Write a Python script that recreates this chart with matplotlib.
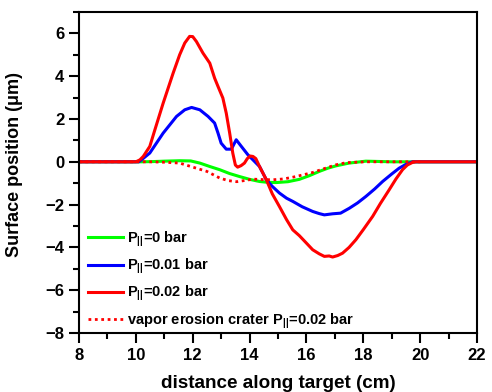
import matplotlib
matplotlib.use("Agg")
import matplotlib.pyplot as plt
from matplotlib.ticker import MultipleLocator

plt.rcParams['font.family'] = ['Liberation Sans', 'DejaVu Sans']
plt.rcParams['font.weight'] = 'bold'
plt.rcParams['mathtext.fontset'] = 'custom'
plt.rcParams['mathtext.rm'] = 'Liberation Sans:bold'
plt.rcParams['mathtext.it'] = 'Liberation Sans:bold'
plt.rcParams['mathtext.bf'] = 'Liberation Sans:bold'

# data (cm, um)
x_p0 = [8, 10.2, 10.6, 11.0, 11.54, 11.93, 12.25, 12.6, 12.95, 13.30, 13.65, 14.0, 14.35,
        14.65, 14.94, 15.35, 15.75, 16.1, 16.45, 16.75, 17.04, 17.5, 18.09, 19.0, 22]
y_p0 = [0, 0, 0.01, 0.03, 0.05, 0.04, -0.06, -0.22, -0.37, -0.55, -0.69, -0.82, -0.92,
        -0.96, -0.97, -0.93, -0.82, -0.65, -0.45, -0.3, -0.19, -0.06, 0.03, 0.0, 0]

x_p1 = [8, 10.1, 10.26, 10.49, 10.96, 11.43, 11.72, 11.96, 12.25, 12.54, 12.77, 12.89,
        13.0, 13.18, 13.36, 13.53, 13.71, 13.94, 14.12, 14.35, 14.59, 14.8, 15.05, 15.3,
        15.52, 15.85, 16.22, 16.45, 16.63, 16.92, 17.2, 17.51, 17.8, 18.09, 18.4, 18.68,
        19.0, 19.26, 19.5, 19.73, 20.0, 22]
y_p1 = [0, 0, 0.16, 0.41, 1.34, 2.12, 2.43, 2.54, 2.43, 2.12, 1.81, 1.34,
        0.87, 0.59, 0.59, 1.03, 0.72, 0.33, 0.09, -0.22, -0.84, -1.15, -1.46, -1.7,
        -1.85, -2.1, -2.32, -2.42, -2.48, -2.43, -2.4, -2.17, -1.92, -1.62, -1.27, -0.92,
        -0.57, -0.30, -0.12, 0, 0, 0]

x_p2 = [8, 10.0, 10.14, 10.26, 10.49, 10.67, 10.96, 11.31, 11.54, 11.72, 11.89, 12.0,
        12.13, 12.36, 12.60, 12.77, 12.89, 13.06, 13.18, 13.30, 13.41, 13.5, 13.58, 13.7,
        13.82, 13.92, 14.02, 14.12, 14.22, 14.35, 14.59, 14.8, 15.05, 15.3, 15.52, 15.75,
        16.0, 16.22, 16.45, 16.63, 16.8, 16.92, 17.1, 17.27, 17.5, 17.74, 18.0, 18.33,
        18.6, 18.91, 19.15, 19.38, 19.55, 19.73, 19.85, 22]
y_p2 = [0, 0, 0.09, 0.25, 0.72, 1.50, 2.74, 4.14, 5.0, 5.55, 5.86, 5.85,
        5.62, 5.08, 4.61, 3.91, 3.52, 2.98, 2.27, 1.34, 0.40, -0.15, -0.25, -0.18,
        -0.06, 0.15, 0.27, 0.25, 0.15, -0.22, -0.84, -1.5, -2.09, -2.7, -3.18, -3.45,
        -3.8, -4.11, -4.3, -4.42, -4.4, -4.45, -4.38, -4.27, -4.0, -3.64, -3.17, -2.55,
        -1.95, -1.31, -0.8, -0.37, -0.15, -0.03, 0, 0]

x_vap = [8, 10.5, 11.0, 11.54, 12.13, 12.5, 12.95, 13.25, 13.55, 13.85, 14.12, 14.45,
         14.82, 15.2, 15.52, 15.85, 16.22, 16.6, 17.04, 17.4, 18.09, 20.0]
y_vap = [0, 0, -0.02, -0.06, -0.3, -0.45, -0.76, -0.88, -0.93, -0.87, -0.81, -0.83,
         -0.84, -0.8, -0.72, -0.62, -0.5, -0.33, -0.14, -0.04, 0, 0]

fig = plt.figure(figsize=(4.92, 3.92), dpi=100)
ax = fig.add_axes([0.1606, 0.1505, 0.8089, 0.8189])

ax.plot(x_p0, y_p0, color='#00ff00', lw=2.2, label=r'P$_{||}$=0 bar')
ax.plot(x_p1, y_p1, color='#0000ff', lw=2.2, label=r'P$_{||}$=0.01 bar')
ax.plot(x_p2, y_p2, color='#ff0000', lw=2.2, label=r'P$_{||}$=0.02 bar')
ax.plot(x_vap, y_vap, color='#ff0000', lw=2.0, linestyle=(0, (1, 1.3)),
        label=r'vapor erosion crater P$_{||}$=0.02 bar')

ax.set_xlim(8, 22)
ax.set_ylim(-8, 7)
ax.xaxis.set_major_locator(MultipleLocator(2))
ax.xaxis.set_minor_locator(MultipleLocator(1))
ax.yaxis.set_major_locator(MultipleLocator(2))
ax.yaxis.set_minor_locator(MultipleLocator(1))
ax.tick_params(which='major', direction='out', length=7, width=1.5, labelsize=12)
ax.tick_params(which='minor', direction='out', length=4, width=1.5)
for s in ax.spines.values():
    s.set_linewidth(1.5)

ax.set_xlabel('distance along target (cm)', fontsize=13.6, fontweight='bold', labelpad=9)
ax.set_ylabel('Surface position (\u03bcm)', fontsize=13, fontweight='bold')
ax.yaxis.set_label_coords(-0.142, 0.525)

ax.legend(loc='lower left', frameon=False, fontsize=10.5, handlelength=2.4,
          handletextpad=0.3, labelspacing=0.55, borderaxespad=0.2,
          bbox_to_anchor=(0.0, -0.02))

fig.savefig('out.png', dpi=100)
